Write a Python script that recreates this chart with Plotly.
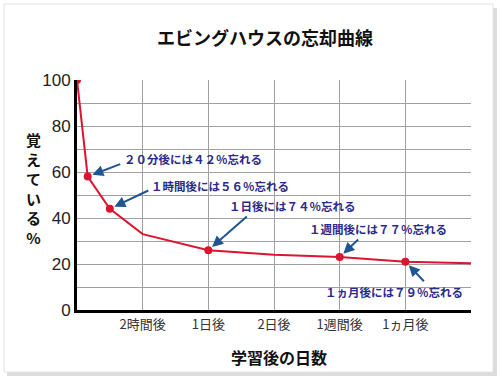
import plotly.graph_objects as go

# ---- data ----
x_pos = [0, 0.163, 0.5, 1, 2, 3, 4, 5, 6]
retention = [100, 58, 44, 33, 26, 24, 23, 21, 20.3]
marked_x = [0, 0.163, 0.5, 2, 4, 5]
marked_y = [100, 58, 44, 26, 23, 21]
tick_vals = [1, 2, 3, 4, 5, 6]
tick_text = ["2時間後", "1日後", "2日後", "1週間後", "1ヵ月後", ""]
callout_x = [0.163, 0.5, 2, 4, 5]
callout_y = [58, 44, 26, 23, 21]
callout_text = ["２０分後には４２％忘れる", "１時間後には５６％忘れる", "１日後には７４％忘れる",
                "１週間後には７７％忘れる", "１ヵ月後には７９％忘れる"]

JP = "Noto Sans CJK JP"
RED = "#dc1430"
NAVY = "#2a2a8a"
ARROW = "#1f5590"

fig = go.Figure()
fig.add_trace(go.Scatter(x=x_pos, y=retention, mode="lines",
                         line=dict(color=RED, width=2), hoverinfo="skip", showlegend=False))
fig.add_trace(go.Scatter(x=marked_x, y=marked_y, mode="markers",
                         marker=dict(color=RED, size=8), showlegend=False))

# arrows (pixel offsets of tails) and text offsets
arrow_off = [(34, -13), (40, -19), (40, -35), (20, -19), (20, 21)]
text_off = [(105, 18), (110, 23), (84, 44), (38, 28), (-11, -30)]
anns = []
for cx, cy, t, (ax, ay), (tx, ty) in zip(callout_x, callout_y, callout_text, arrow_off, text_off):
    anns.append(dict(x=cx, y=cy, xref="x", yref="y", text="", showarrow=True,
                     ax=ax, ay=ay, arrowhead=2, arrowsize=1.1, arrowwidth=2,
                     arrowcolor=ARROW, standoff=5))
    anns.append(dict(x=cx, y=cy, xref="x", yref="y", text=f"<b>{t}</b>", showarrow=False,
                     xshift=tx, yshift=ty, font=dict(family=JP, size=11.5, color=NAVY)))

L, R, T, B = 77, 471, 80, 310

def px(xp):
    return (xp - L) / (R - L)
def py(yp):
    return (B - yp) / (B - T)

# titles (pixel positions converted to paper coords)
for xp, yp, txt, size in [(265, 37, "エビングハウスの忘却曲線", 18),
                          (279, 357, "学習後の日数", 16),
                          (33, 188, "<br>".join(list("覚えている%")), 15)]:
    anns.append(dict(x=px(xp), y=py(yp), xref="paper", yref="paper", xanchor="center",
                     yanchor="middle", text=f"<b>{txt}</b>", showarrow=False,
                     font=dict(family=JP, size=size, color="#111")))

shapes = [
    dict(type="rect", xref="paper", yref="paper", x0=px(7), x1=px(497), y0=py(376), y1=py(8),
         fillcolor="#dcdcdc", line=dict(width=0), layer="below"),
    dict(type="rect", xref="paper", yref="paper", x0=px(4), x1=px(493), y0=py(372), y1=py(4),
         fillcolor="white", line=dict(color="#e2e2e2", width=1), layer="below"),
]

fig.update_layout(
    width=500, height=378,
    margin=dict(l=L, r=500 - R, t=T, b=378 - B),
    paper_bgcolor="white", plot_bgcolor="rgba(0,0,0,0)",
    annotations=anns, shapes=shapes, showlegend=False,
    xaxis=dict(range=[0, 6], tickvals=tick_vals, ticktext=tick_text, showgrid=True,
               gridcolor="#a0a0a0", gridwidth=1, zeroline=False, showline=True,
               linecolor="black", linewidth=3, ticks="",
               tickfont=dict(family=JP, size=13, color="#333")),
    yaxis=dict(range=[0, 100], tickvals=list(range(0, 101, 10)),
               ticktext=[str(v) if v % 20 == 0 else "" for v in range(0, 101, 10)],
               showgrid=True, gridcolor="#a0a0a0", gridwidth=1, zeroline=False,
               showline=True, linecolor="black", linewidth=3, ticks="",
               tickfont=dict(family="Liberation Sans Narrow, Liberation Sans", size=17, color="#222")),
)

fig.write_html("out.html", config={"displayModeBar": False},
               post_script="document.body.style.margin='0';")
